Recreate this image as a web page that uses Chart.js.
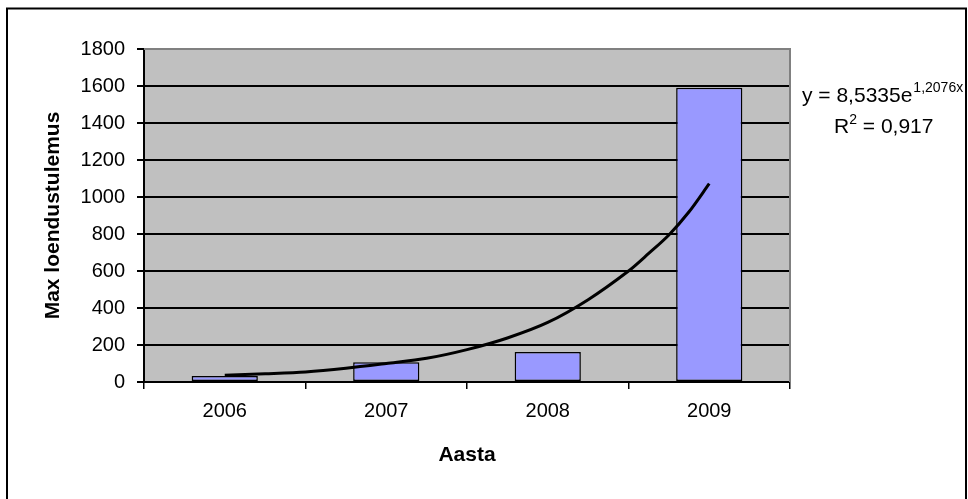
<!DOCTYPE html>
<html>
<head>
<meta charset="utf-8">
<script src="https://cdn.jsdelivr.net/npm/chart.js@4"></script>
<style>
  html, body { margin: 0; padding: 0; background: #fff; }
  #c { display: block; }
</style>
</head>
<body>
<canvas id="c" width="968" height="499"></canvas>
<script>
// ---- data ----
const years = ['2006', '2007', '2008', '2009'];
const maxCounts = [32, 107, 162, 1590];
// exponential trendline (x in category units, 0 = 2006)
const trendX = [0, 0.25, 0.5, 0.75, 1, 1.25, 1.5, 1.75, 2, 2.25, 2.5, 2.625, 2.75, 2.875, 3];
const trendY = [36, 44, 54, 74, 100, 128, 175, 238, 322, 445, 600, 695, 795, 920, 1072];
const yTicks = [0, 200, 400, 600, 800, 1000, 1200, 1400, 1600, 1800];
const eqMain = 'y = 8,5335e';
const eqExp = '1,2076x';
const r2Base = 'R';
const r2Exp = '2';
const r2Rest = ' = 0,917';
const xTitle = 'Aasta';
const yTitle = 'Max loendustulemus';

const FONT = "'Liberation Sans', Arial, sans-serif";

const framePlugin = {
  id: 'frame',
  beforeDraw(chart) {
    const ctx = chart.ctx;
    const a = chart.chartArea;
    ctx.save();
    ctx.fillStyle = '#ffffff';
    ctx.fillRect(0, 0, chart.width, chart.height);
    ctx.strokeStyle = '#000000';
    ctx.lineWidth = 2;
    ctx.strokeRect(7, 8.5, 959, 600);
    ctx.fillStyle = '#C0C0C0';
    ctx.fillRect(a.left, a.top, a.right - a.left, a.bottom - a.top);
    ctx.restore();
  },
  beforeDatasetsDraw(chart) {
    const ctx = chart.ctx;
    const a = chart.chartArea;
    ctx.save();
    ctx.strokeStyle = '#808080';
    ctx.lineWidth = 2;
    ctx.beginPath();
    ctx.moveTo(a.left, a.top);
    ctx.lineTo(a.right, a.top);
    ctx.lineTo(a.right, a.bottom);
    ctx.stroke();
    ctx.restore();
  },
  afterDraw(chart) {
    const ctx = chart.ctx;
    ctx.save();
    ctx.fillStyle = '#000000';
    ctx.textBaseline = 'alphabetic';
    ctx.textAlign = 'left';
    // line 1
    ctx.font = '21px ' + FONT;
    let x = 802;
    ctx.fillText(eqMain, x, 102);
    x += ctx.measureText(eqMain).width;
    ctx.font = '14px ' + FONT;
    ctx.fillText(eqExp, x + 1, 92);
    // line 2
    ctx.font = '21px ' + FONT;
    x = 834;
    ctx.fillText(r2Base, x, 133);
    x += ctx.measureText(r2Base).width;
    ctx.font = '14px ' + FONT;
    ctx.fillText(r2Exp, x, 124);
    x += ctx.measureText(r2Exp).width;
    ctx.font = '21px ' + FONT;
    ctx.fillText(r2Rest, x, 133);
    ctx.restore();
  }
};

new Chart(document.getElementById('c'), {
  type: 'bar',
  data: {
    labels: years,
    datasets: [
      {
        type: 'bar',
        label: 'Max',
        data: maxCounts,
        backgroundColor: '#9999FF',
        borderColor: '#000000',
        borderWidth: 1.5,
        borderSkipped: false,
        grouped: false,
        categoryPercentage: 1,
        barPercentage: 0.41,
        order: 1
      },
      {
        type: 'line',
        label: 'trend',
        xAxisID: 'xt',
        data: trendX.map((v, i) => ({ x: v, y: trendY[i] })),
        borderColor: '#000000',
        borderWidth: 3,
        pointRadius: 0,
        fill: false,
        tension: 0.3,
        order: 0
      }
    ]
  },
  options: {
    responsive: false,
    animation: false,
    events: [],
    layout: { padding: { left: 0, top: 49, right: 178, bottom: 0 } },
    plugins: { legend: { display: false }, tooltip: { enabled: false } },
    scales: {
      x: {
        type: 'category',
        offset: true,
        afterFit(s) { s.height = 117; },
        grid: { display: true, drawOnChartArea: false, offset: true, tickLength: 7, color: '#000000', lineWidth: 1.5 },
        border: { display: true, color: '#000000', width: 2 },
        ticks: { color: '#000000', font: { family: FONT, size: 20 }, padding: 10, maxRotation: 0 },
        title: { display: true, text: xTitle, color: '#000000', font: { family: FONT, size: 21, weight: 'bold' }, padding: { top: 0, bottom: 31 } }
      },
      xt: {
        type: 'linear',
        display: false,
        min: -0.5,
        max: 3.5,
        offset: false
      },
      y: {
        type: 'linear',
        min: 0,
        max: 1800,
        afterFit(s) { s.width = 144; },
        afterBuildTicks(s) { s.ticks = yTicks.map(v => ({ value: v })); },
        grid: {
          color: (c) => (c.tick && c.tick.value === 1800 ? '#808080' : '#000000'),
          lineWidth: 2,
          tickLength: 7,
          tickColor: '#000000'
        },
        border: { display: true, color: '#000000', width: 2 },
        ticks: { color: '#000000', font: { family: FONT, size: 20 }, padding: 12, callback: (v) => String(v) },
        title: { display: true, text: yTitle, color: '#000000', font: { family: FONT, size: 21, weight: 'bold' }, padding: { top: 41, bottom: 0 } }
      }
    }
  },
  plugins: [framePlugin]
});
</script>
</body>
</html>
